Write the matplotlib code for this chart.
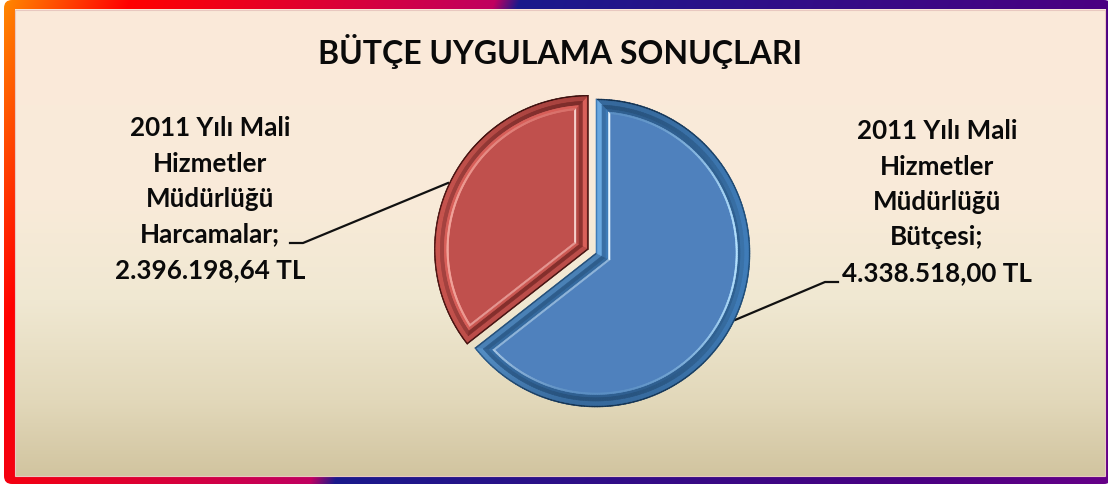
import matplotlib
matplotlib.use('Agg')
import matplotlib.pyplot as plt
import numpy as np
from matplotlib.collections import PolyCollection
from matplotlib.colors import to_rgb
from matplotlib.patches import FancyBboxPatch, Rectangle

W, H = 1108, 486

title = 'BÜTÇE UYGULAMA SONUÇLARI'
names = ['2011 Yılı Mali\nHizmetler\nMüdürlüğü\nBütçesi;',
         '2011 Yılı Mali\nHizmetler\nMüdürlüğü\nHarcamalar;']
values = [4338518.00, 2396198.64]
value_labels = ['4.338.518,00 TL', '2.396.198,64 TL']
colors = ['#4f81bd', '#c0504d']

# band: inset from, inset to, colour facing right, facing left, facing up/down
blue_bands = [
    (0.0, 1.5, '#1f4e79', '#3f7cb8', '#12304e'),
    (1.5, 6.0, '#3f7cb8', '#6aa8e0', '#36699c'),
    (6.0, 10.0, '#3a72a8', '#3a6fa5', '#27527d'),
    (10.0, 12.5, '#2f6090', '#3f7cb8', '#2f5f90'),
    (12.5, 14.0, '#b5e2ff', '#e8f6ff', '#5b8fc4'),
]
red_bands = [
    (0.0, 1.5, '#4a1412', '#4a1412', '#3a100e'),
    (1.5, 6.0, '#d9605a', '#c9554f', '#a8423e'),
    (6.0, 10.0, '#8f3330', '#a54340', '#7d2c2a'),
    (10.0, 12.5, '#b54a46', '#d9605a', '#d9605a'),
    (12.5, 14.0, '#fbdcd8', '#f4a89f', '#d9706a'),
]


def gradient(t, stops):
    pos = [s[0] for s in stops]
    rgb = np.array([to_rgb(s[1]) for s in stops])
    return np.stack([np.interp(t, pos, rgb[:, i]) for i in range(3)], axis=-1)


def outline(wedge, d, n=240):
    cx, cy = wedge.center
    t1, t2 = np.radians(wedge.theta1), np.radians(wedge.theta2)
    half = (t2 - t1) / 2
    mid = t1 + half
    trim = np.arcsin(d / (wedge.r - d))
    ang = np.linspace(t1 + trim, t2 - trim, n)
    shift = d / np.sin(half)
    xs = np.r_[cx + shift * np.cos(mid), cx + (wedge.r - d) * np.cos(ang)]
    ys = np.r_[cy + shift * np.sin(mid), cy + (wedge.r - d) * np.sin(ang)]
    return xs, ys


def bevel(ax, wedge, bands):
    for d0, d1, right, left, vert in bands:
        x0, y0 = outline(wedge, d0)
        x1, y1 = outline(wedge, d1)
        quads, cols = [], []
        for i in range(len(x0)):
            j = (i + 1) % len(x0)
            dx, dy = x0[j] - x0[i], y0[j] - y0[i]
            ln = np.hypot(dx, dy)
            nx, ny = dy / ln, -dx / ln
            side = np.array(to_rgb(right if nx > 0 else left))
            col = side * (1 - ny ** 2) + np.array(to_rgb(vert)) * ny ** 2
            quads.append([(x0[i], y0[i]), (x0[j], y0[j]), (x1[j], y1[j]), (x1[i], y1[i])])
            cols.append(col)
        ax.add_collection(PolyCollection(quads, facecolors=cols, edgecolors=cols, linewidths=0.4, zorder=3))


fig = plt.figure(figsize=(W / 100, H / 100), dpi=100, facecolor='white')
ax = fig.add_axes([0, 0, 1, 1])

# frame with diagonal colour run
yy, xx = np.mgrid[0:H, 0:W]
frame_stops = [(0, '#ff8c00'), (130, '#ff0000'), (495, '#c00060'), (520, '#1a1a8c'),
               (1108, '#4b0082'), (1293, '#660088')]
frame_img = ax.imshow(gradient(xx + 0.385 * yy, frame_stops), extent=(0, W, 0, H), origin='upper', zorder=0)
clip = FancyBboxPatch((4, 2), W, H - 2, boxstyle='round,pad=0,rounding_size=8',
                      transform=ax.transData, fc='none', ec='none')
ax.add_patch(clip)
frame_img.set_clip_path(clip)

# panel
bg_stops = [(10, '#fbe9da'), (200, '#f9ebd9'), (300, '#f0e8d2'), (400, '#e2d8ba'), (476, '#d1c49f')]
panel_rgb = gradient(np.arange(10, 476)[:, None], bg_stops)
ax.imshow(panel_rgb, extent=(14.5, 1105, H - 476, H - 10), origin='upper', aspect='auto', zorder=1)
ax.add_patch(Rectangle((14.5, H - 476), 1090.5, 466, fc='none', ec='#e8c8c0', lw=0.8, zorder=1.5))

# pie, explode is in pixels here because the axes run in pixels
wedges, _ = ax.pie(values, colors=colors, startangle=90, counterclock=False, radius=154,
                   center=(596, H - 253), explode=[0, 8.5], frame=True,
                   wedgeprops={'zorder': 2, 'linewidth': 0})
bevel(ax, wedges[0], blue_bands)
bevel(ax, wedges[1], red_bands)

# leader lines
ax.plot([838, 825, 735], [H - 282, H - 282, H - 320], color='#111111', lw=1.6, zorder=2.5)
ax.plot([290, 303, 448], [H - 243, H - 243, H - 183], color='#111111', lw=1.6, zorder=2.5)

ax.text(560, H - 52, title, ha='center', va='center', fontsize=23, fontweight='bold',
        family='Lato', color='#0a0a0a', zorder=4)
ax.text(937, H - 202, names[0] + '\n' + value_labels[0], ha='center', va='center', fontsize=18.7,
        fontweight='bold', family='Lato', color='#0a0a0a', linespacing=1.57, zorder=4)
ax.text(210, H - 199, names[1] + '\n' + value_labels[1], ha='center', va='center', fontsize=18.7,
        fontweight='bold', family='Lato', color='#0a0a0a', linespacing=1.57, zorder=4)

ax.set_xlim(0, W)
ax.set_ylim(0, H)
ax.set_aspect('auto')
ax.axis('off')

fig.savefig('out.png', dpi=100, facecolor='white')
